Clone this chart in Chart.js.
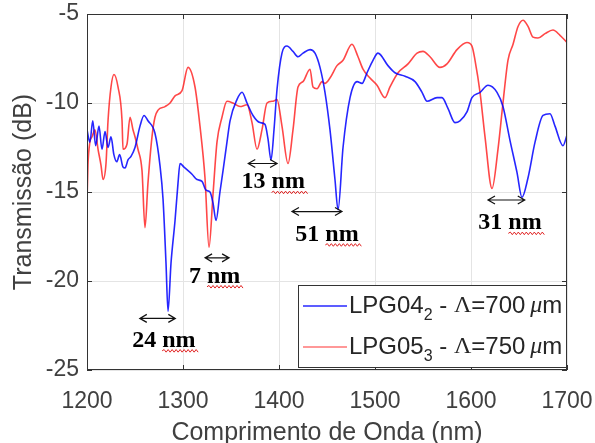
<!DOCTYPE html>
<html>

<head>
  <meta charset="UTF-8" />
  <meta name="viewport" content="width=device-width" />
  <title>Transmissão LPG04 / LPG05</title>
  <script src="https://cdn.jsdelivr.net/npm/chart.js@4.4.1/dist/chart.umd.min.js"></script>
  <style>
    body { margin: 0; background: #fff; }
    canvas { display: block; }
  </style>
</head>

<body>
  <canvas id="chart" width="595" height="443"></canvas>
  <script>
    // LPG04_2 (blue) - wavelength (nm) and transmission (dB)
    const lambdaBlue = [1200, 1203, 1206, 1209, 1212.5, 1215.6, 1218.8, 1221.9, 1225, 1228, 1231, 1234, 1237.5, 1239.6,
      1242.7, 1245.8, 1250, 1255.2, 1259.4, 1263.5, 1270.8, 1276, 1279.2, 1282.3, 1284.4, 1287.5, 1291.7, 1294.8,
      1296.9, 1301, 1309.4, 1314.6, 1319.8, 1324, 1328.1, 1331.2, 1334.4, 1338.5, 1341.7, 1345.8, 1349, 1356.3,
      1361.5, 1366.7, 1372.9, 1380.2, 1385.4, 1388.5, 1391.7, 1394.8, 1398, 1403.1, 1408.3, 1414.6, 1419.8, 1425,
      1432.3, 1437.5, 1442.7, 1447.9, 1453.1, 1458.3, 1461.5, 1466.7, 1474, 1481.3, 1486.5, 1491.7, 1497.9, 1503.1,
      1513.5, 1520.8, 1531.3, 1541.7, 1549, 1554.2, 1564.6, 1569.8, 1576, 1583.3, 1588.5, 1595.8, 1601, 1609.4,
      1617.7, 1627.1, 1633.3, 1640.6, 1647.9, 1653.1, 1659.4, 1666.7, 1675, 1682.3, 1687.5, 1695.8, 1700];
    const transBlue = [-11.5, -12.2, -11.0, -12.4, -11.3, -12.6, -11.6, -12.5, -11.9, -12.9, -13.3, -12.9, -13.6, -13.65,
      -13.2, -13.0, -12.5, -11.3, -10.7, -11.0, -11.7, -13.5, -15.4, -19.0, -21.7, -19.0, -16.6, -14.5,
      -13.4, -13.6, -14.0, -14.3, -14.4, -14.9, -15.0, -15.6, -16.6, -15.0, -13.8, -12.2, -11.0, -9.8,
      -9.4, -10.0, -10.7, -11.1, -11.2, -12.0, -13.2, -11.5, -9.2, -7.2, -6.8, -7.1, -7.4, -7.2,
      -7.0, -7.2, -8.0, -9.4, -11.5, -14.3, -16.0, -12.5, -9.7, -8.8, -8.9, -8.3, -7.6, -7.2,
      -7.9, -8.3, -8.5, -8.8, -9.4, -9.9, -9.7, -9.7, -10.3, -11.1, -11.0, -10.5, -9.7, -9.4,
      -9.0, -9.4, -10.2, -12.1, -13.9, -15.3, -14.2, -12.2, -10.7, -10.6, -11.3, -12.4, -11.8];

    // LPG05_3 (red)
    const lambdaRed = [1200, 1201, 1203, 1205.2, 1208.3, 1211.5, 1214.6, 1216.7, 1219.8, 1221.9, 1225, 1228.1, 1232.3,
      1236.5, 1237.5, 1241.7, 1244.8, 1247.9, 1250, 1253.1, 1257.3, 1260.4, 1263.5, 1267.7, 1270.8, 1274, 1281.3,
      1286.5, 1291.7, 1299, 1305.2, 1312.5, 1317.7, 1322.9, 1327.1, 1331.3, 1335.4, 1340.6, 1345.8, 1352.1, 1359.4,
      1366.7, 1371.9, 1377.1, 1382.3, 1387.5, 1393.8, 1397.9, 1403.1, 1409.4, 1414.6, 1419.8, 1425, 1432.3, 1435.4,
      1439.6, 1444.8, 1447.9, 1453.1, 1460.4, 1466.7, 1476, 1482.3, 1487.5, 1494.8, 1502.1, 1510.4, 1515.6, 1524,
      1534.4, 1543.8, 1550, 1557.3, 1567.7, 1575, 1585.4, 1595.8, 1601, 1604.2, 1609.4, 1614.6, 1621.9, 1628.1,
      1633.3, 1638.5, 1643.8, 1649, 1654.2, 1659.4, 1664.6, 1669.8, 1677.1, 1685.4, 1692.7, 1700];
    const transRed = [-15.6, -13.5, -12.2, -11.9, -11.5, -12.6, -13.5, -14.3, -13.4, -11.0, -9.1, -8.4, -9.1,
      -11.0, -12.6, -12.3, -10.8, -11.5, -11.9, -12.6, -13.8, -17.0, -14.5, -11.9, -10.8, -10.4, -10.2,
      -10.0, -9.6, -9.3, -8.0, -9.1, -11.3, -14.2, -18.1, -15.1, -12.2, -10.8, -9.9, -10.0, -10.2,
      -10.1, -11.1, -12.6, -11.5, -10.0, -9.9, -9.8, -11.3, -13.4, -11.5, -9.1, -8.8, -8.1, -9.1,
      -9.2, -8.8, -8.9, -8.6, -7.9, -7.6, -6.7, -7.4, -8.1, -8.6, -9.0, -9.7, -9.1, -8.3,
      -7.8, -7.2, -7.1, -7.4, -8.0, -7.8, -7.0, -6.6, -6.8, -7.6, -9.4, -11.9, -14.8, -12.6,
      -10.0, -7.6, -6.7, -5.7, -5.35, -5.7, -6.3, -6.35, -6.1, -5.9, -6.2, -6.6];

    const xTicks = [1200, 1300, 1400, 1500, 1600, 1700];
    const yTicks = [-25, -20, -15, -10, -5];

    // spectral shift annotations (data units)
    const gapLabels = ['24 nm', '7 nm', '13 nm', '51 nm', '31 nm'];
    const arrowFrom = [1255, 1323, 1368, 1413.5, 1617.7];
    const arrowTo = [1292, 1348, 1398, 1465.6, 1656];
    const arrowLevel = [-22.1, -18.7, -13.4, -16.1, -15.45];
    const labelX = [1280, 1333, 1394, 1450, 1640.6];
    const labelY = [-23.7, -20.1, -14.8, -17.75, -17.1];

    const legendNames = ['LPG04', 'LPG05'];
    const legendSubs = ['2', '3'];
    const legendPeriods = ['700', '750'];

    const blue = 'rgba(0, 0, 255, 0.85)';
    const red = 'rgba(255, 0, 0, 0.72)';
    const SANS = '"Liberation Sans", Arial, sans-serif';
    const SERIF = '"Liberation Serif", "Times New Roman", serif';

    function toPoints(xs, ys) {
      return xs.map((x, i) => ({ x: x, y: ys[i] }));
    }

    function squiggle(ctx, x0, x1, yy) {
      ctx.beginPath();
      ctx.moveTo(x0, yy);
      let up = true;
      for (let x = x0; x < x1; x += 2) {
        ctx.lineTo(x + 2, yy + (up ? -1.3 : 1.3));
        up = !up;
      }
      ctx.stroke();
    }

    function arrow(ctx, x0, x1, yy) {
      ctx.beginPath();
      ctx.moveTo(x0, yy); ctx.lineTo(x1, yy);
      ctx.moveTo(x0 + 7, yy - 4); ctx.lineTo(x0, yy); ctx.lineTo(x0 + 7, yy + 4);
      ctx.moveTo(x1 - 7, yy - 4); ctx.lineTo(x1, yy); ctx.lineTo(x1 - 7, yy + 4);
      ctx.stroke();
    }

    const decorations = {
      id: 'decorations',
      afterDatasetsDraw(chart) {
        const { ctx, chartArea: a, scales: { x, y } } = chart;
        ctx.save();

        // axes box with inward ticks (matlab style)
        ctx.strokeStyle = '#333';
        ctx.lineWidth = 1;
        ctx.strokeRect(a.left + 0.5, a.top + 0.5, a.right - a.left - 1, a.bottom - a.top - 1);
        ctx.beginPath();
        xTicks.forEach(v => {
          const px = Math.round(x.getPixelForValue(v)) + 0.5;
          ctx.moveTo(px, a.bottom); ctx.lineTo(px, a.bottom - 5);
          ctx.moveTo(px, a.top); ctx.lineTo(px, a.top + 5);
        });
        yTicks.forEach(v => {
          const py = Math.round(y.getPixelForValue(v)) + 0.5;
          ctx.moveTo(a.left, py); ctx.lineTo(a.left + 5, py);
          ctx.moveTo(a.right, py); ctx.lineTo(a.right - 5, py);
        });
        ctx.stroke();

        // arrows + labels
        ctx.strokeStyle = '#111';
        ctx.lineWidth = 1.2;
        gapLabels.forEach((txt, i) => {
          const yy = y.getPixelForValue(arrowLevel[i]);
          arrow(ctx, x.getPixelForValue(arrowFrom[i]), x.getPixelForValue(arrowTo[i]), yy);
        });
        ctx.font = 'bold 24px ' + SERIF;
        ctx.fillStyle = '#000';
        ctx.textAlign = 'left';
        ctx.textBaseline = 'alphabetic';
        gapLabels.forEach((txt, i) => {
          const w = ctx.measureText(txt).width;
          const cx = x.getPixelForValue(labelX[i]);
          const by = y.getPixelForValue(labelY[i]);
          const x0 = cx - w / 2;
          ctx.fillText(txt, x0, by);
          const num = txt.split(' ')[0] + ' ';
          const nmStart = x0 + ctx.measureText(num).width;
          ctx.strokeStyle = '#e02020';
          ctx.lineWidth = 1;
          squiggle(ctx, nmStart, x0 + w + 2, by + 4);
        });
        ctx.restore();
      },
      afterDraw(chart) {
        const { ctx, chartArea: a } = chart;
        ctx.save();
        const bw = 269, bh = 83;
        const bx = a.right - bw, by = a.bottom - bh - 2;
        ctx.fillStyle = '#fff';
        ctx.fillRect(bx, by, bw, bh);
        ctx.strokeStyle = '#333';
        ctx.lineWidth = 1;
        ctx.strokeRect(bx + 0.5, by + 0.5, bw - 1, bh - 1);

        const colors = [blue, 'rgba(255, 60, 60, 0.7)'];
        legendNames.forEach((name, i) => {
          const cy = by + 21 + i * 41;
          ctx.strokeStyle = colors[i];
          ctx.lineWidth = 1.5;
          ctx.beginPath();
          ctx.moveTo(bx + 5, cy); ctx.lineTo(bx + 49, cy);
          ctx.stroke();

          ctx.fillStyle = '#262626';
          ctx.textBaseline = 'middle';
          ctx.textAlign = 'left';
          let tx = bx + 51;
          const parts = [
            [name, '24px ' + SANS, 0],
            [legendSubs[i], '16px ' + SANS, 10],
            [' - ', '24px ' + SANS, 0],
            ['\u039B', '24px ' + SERIF, 0],
            ['=' + legendPeriods[i], '24px ' + SANS, 0],
            ['\u2009\u03BC', 'italic 24px ' + SERIF, 0],
            ['m', '24px ' + SANS, 0]
          ];
          parts.forEach(p => {
            ctx.font = p[1];
            ctx.fillText(p[0], tx, cy + p[2]);
            tx += ctx.measureText(p[0]).width;
          });
        });
        ctx.restore();
      }
    };

    const ctx = document.getElementById('chart').getContext('2d');
    const chart = new Chart(ctx, {
      type: 'line',
      data: {
        datasets: [{
          label: 'LPG04_2 - Λ=700μm',
          data: toPoints(lambdaBlue, transBlue),
          borderColor: blue,
          borderWidth: 1.6,
          pointRadius: 0,
          cubicInterpolationMode: 'monotone'
        }, {
          label: 'LPG05_3 - Λ=750μm',
          data: toPoints(lambdaRed, transRed),
          borderColor: red,
          borderWidth: 1.6,
          pointRadius: 0,
          cubicInterpolationMode: 'monotone'
        }]
      },
      options: {
        responsive: false,
        animation: false,
        devicePixelRatio: 1,
        layout: { padding: { top: 14, right: 28, left: 0, bottom: 0 } },
        plugins: {
          legend: { display: false },
          tooltip: { enabled: false }
        },
        scales: {
          x: {
            type: 'linear',
            min: 1200,
            max: 1700,
            afterBuildTicks: s => { s.ticks = xTicks.map(v => ({ value: v })); },
            afterFit: s => { s.height = 73; s.paddingLeft = 0; s.paddingRight = 0; },
            grid: { color: '#e4e4e4', drawTicks: false },
            border: { display: false },
            ticks: {
              padding: 18,
              color: '#404040',
              font: { family: SANS, size: 23 },
              maxRotation: 0,
              callback: v => String(v)
            },
            title: {
              display: true,
              text: 'Comprimento de Onda (nm)',
              color: '#404040',
              font: { family: SANS, size: 25, lineHeight: 0.8 },
              padding: { top: 0, bottom: 0 }
            }
          },
          y: {
            min: -25,
            max: -5,
            afterBuildTicks: s => { s.ticks = yTicks.map(v => ({ value: v })); },
            afterFit: s => { s.width = 87; s.paddingTop = 0; s.paddingBottom = 0; },
            grid: { color: '#e4e4e4', drawTicks: false },
            border: { display: false },
            ticks: {
              padding: 8,
              color: '#404040',
              font: { family: SANS, size: 23 },
              callback: v => String(v)
            },
            title: {
              display: true,
              text: 'Transmissão (dB)',
              color: '#404040',
              font: { family: SANS, size: 25, lineHeight: 1 },
              padding: { top: 12, bottom: 0 }
            }
          }
        }
      },
      plugins: [decorations]
    });
  </script>
</body>

</html>
